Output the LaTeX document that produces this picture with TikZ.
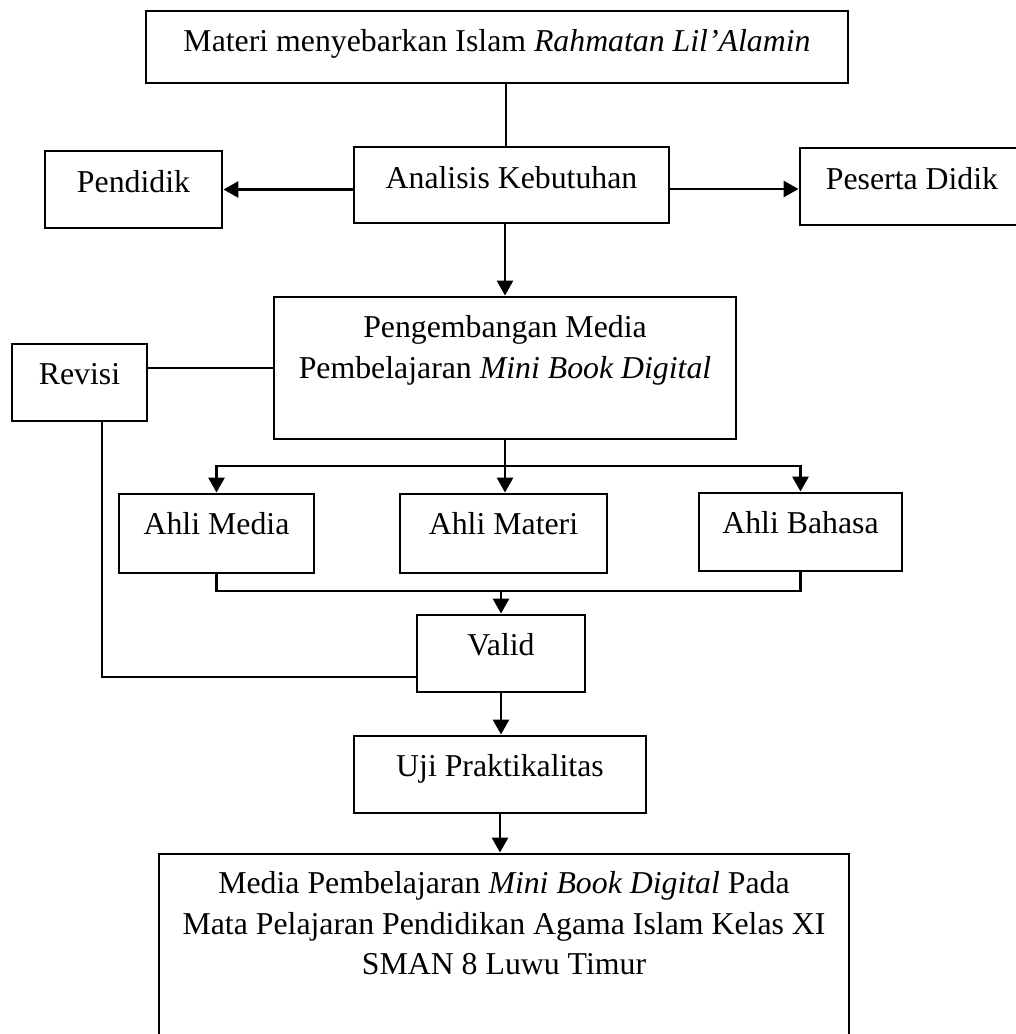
\documentclass[tikz,border=0pt]{standalone}
\usepackage{fontspec}
\setmainfont{Liberation Serif}
\usetikzlibrary{arrows.meta,calc}
\begin{document}
\begin{tikzpicture}[x=1pt,y=-1pt,
  box/.style={draw, line width=2.9pt, inner sep=0pt},
  lbl/.style={inner sep=0pt, anchor=north, align=center, font=\fontsize{31.8}{40.5}\selectfont},
  ln/.style={line width=2.9pt},
  arr/.style={line width=2.9pt, -{Triangle[length=15pt,width=16pt]}}]
\useasboundingbox (0,0) rectangle (1016,1034);
\fill[white] (0,0) rectangle (1016,1034);
\clip (0,0) rectangle (1016,1034);
\newcommand\strt{\rule{0pt}{22pt}}
% boxes
\node[box, minimum width=702pt, minimum height=72pt] (top) at (497,47) {};
\node[box, minimum width=177pt, minimum height=77pt] (pend) at (133.5,189.5) {};
\node[box, minimum width=315pt, minimum height=76pt] (anal) at (511.5,185) {};
\node[box, minimum width=224pt, minimum height=77pt] (pes) at (912,186.5) {};
\node[box, minimum width=462pt, minimum height=142pt] (peng) at (505,368) {};
\node[box, minimum width=135pt, minimum height=77pt] (rev) at (79.5,382.5) {};
\node[box, minimum width=195pt, minimum height=79pt] (am) at (216.5,533.5) {};
\node[box, minimum width=207pt, minimum height=79pt] (amt) at (503.5,533.5) {};
\node[box, minimum width=203pt, minimum height=78pt] (ab) at (800.5,532) {};
\node[box, minimum width=168pt, minimum height=77pt] (valid) at (501,653.5) {};
\node[box, minimum width=292pt, minimum height=77pt] (uji) at (500,774.5) {};
\node[box, minimum width=690pt, minimum height=212pt] (final) at (504,960) {};
% labels
\node[lbl] (top-t) at ([yshift=-20pt]top.north) {\strt Materi menyebarkan Islam \textit{Rahmatan Lil’Alamin}};
\node[lbl] (pend-t) at ([yshift=-21pt]pend.north) {\strt Pendidik};
\node[lbl] (anal-t) at ([yshift=-21pt]anal.north) {\strt Analisis Kebutuhan};
\node[lbl] (pes-t) at ([yshift=-21pt]pes.north) {\strt Peserta Didik};
\node[lbl] (peng-t) at ([yshift=-20pt]peng.north) {\strt Pengembangan Media\\Pembelajaran \textit{Mini Book Digital}};
\node[lbl] (rev-t) at ([yshift=-20pt]rev.north) {\strt Revisi};
\node[lbl] (am-t) at ([yshift=-20pt]am.north) {\strt Ahli Media};
\node[lbl] (amt-t) at ([yshift=-20pt]amt.north) {\strt Ahli Materi};
\node[lbl] (ab-t) at ([yshift=-20pt]ab.north) {\strt Ahli Bahasa};
\node[lbl] (valid-t) at ([yshift=-20pt]valid.north) {\strt Valid};
\node[lbl] (uji-t) at ([yshift=-20pt]uji.north) {\strt Uji Praktikalitas};
\node[lbl] (final-t) at ([yshift=-19pt]final.north) {\strt Media Pembelajaran \textit{Mini Book Digital} Pada\\Mata Pelajaran Pendidikan Agama Islam Kelas XI\\SMAN 8 Luwu Timur};
% connectors
\draw[ln] ([xshift=-5.5pt]anal.north) -- ([xshift=-5.5pt]anal.north |- top.south);
\draw[arr] (anal.west |- pend.east) -- (pend.east);
\draw[arr] ([yshift=-4pt]anal.east) -- ([yshift=-4pt]anal.east -| pes.west);
\draw[arr] (anal.south -| peng.north) -- (peng.north);
\draw[ln] (rev.east |- peng.west) -- (peng.west);
\coordinate (split) at (505,466);
\draw[arr] (peng.south) -- (peng.south |- amt.north);
\draw[arr] (split) -| (am.north);
\draw[arr] (split) -| (ab.north);
\coordinate (merge) at (501,591);
\draw[ln] (am.south) |- (merge) -| (ab.south);
\draw[arr] (merge) -- (valid.north);
\draw[ln] ([xshift=22.5pt]rev.south) |- ([yshift=-23.5pt]valid.west);
\draw[arr] (valid.south) -- (valid.south |- uji.north);
\draw[arr] (uji.south) -- (uji.south |- final.north);
\end{tikzpicture}
\end{document}
